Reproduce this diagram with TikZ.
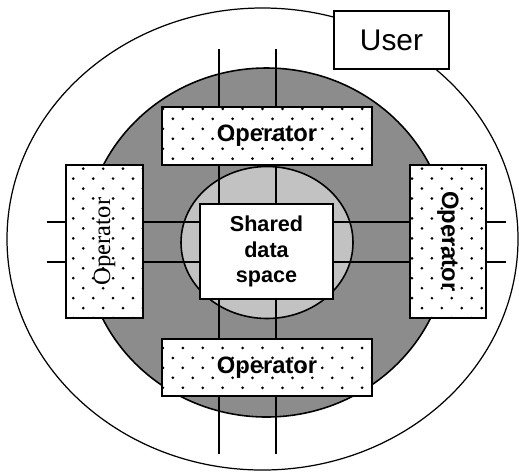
\documentclass[tikz,border=0pt]{standalone}
\usepackage{fontspec}
\setmainfont{Liberation Sans}
\newfontfamily\opserif{Liberation Serif}
\usetikzlibrary{patterns}

\pgfdeclarepatternformonly{opdots}{\pgfqpoint{-1pt}{-1pt}}{\pgfqpoint{12.34pt}{12.34pt}}{\pgfqpoint{11.34pt}{11.34pt}}{
  \pgfpathcircle{\pgfqpoint{2pt}{2pt}}{0.85pt}
  \pgfpathcircle{\pgfqpoint{7.67pt}{7.67pt}}{0.85pt}
  \pgfusepath{fill}
}

\tikzset{
  opbox/.style={draw, line width=1.1pt, fill=white, postaction={pattern=opdots},
    inner sep=0pt, font=\fontsize{13.5}{15}\selectfont\bfseries},
  plainbox/.style={draw, line width=1.1pt, fill=white, inner sep=0pt, align=center},
  link/.style={line width=1pt}
}

\definecolor{darkzone}{gray}{0.55}
\definecolor{lightzone}{gray}{0.76}

\begin{document}
\begin{tikzpicture}[x=0.02cm, y=-0.02cm]
 \useasboundingbox (0,0) rectangle (519,471);
 \draw[line width=0.7pt, fill=white] (262.5,239) ellipse [x radius=255.5, y radius=231];
 \draw[line width=0.9pt, fill=darkzone] (266.5,242.5) ellipse [x radius=182, y radius=174.5];
 \draw[line width=0.9pt, fill=lightzone] (267,242.5) ellipse [x radius=86, y radius=76];

 \coordinate (v1top) at (219,49);
 \coordinate (v1bot) at (219,454);
 \coordinate (v2top) at (276,49);
 \coordinate (v2bot) at (276,454);
 \coordinate (h1left) at (47,222);
 \coordinate (h1right) at (506,222);
 \coordinate (h2left) at (47,262);
 \coordinate (h2right) at (506,262);
 \draw[link] (v1top) -- (v1bot);
 \draw[link] (v2top) -- (v2bot);
 \draw[link] (h1left) -- (h1right);
 \draw[link] (h2left) -- (h2right);

 \node[opbox, minimum width=4.2cm, minimum height=1.16cm] (optop) at (267,136) {Operator};
 \node[opbox, minimum width=4.2cm, minimum height=1.14cm] (opbottom) at (267,367.5) {Operator};
 \node[opbox, minimum width=3.06cm, minimum height=1.54cm, rotate=90,
   font=\fontsize{14}{16}\selectfont\opserif] (opleft) at (104.5,241.5) {Operator};
 \node[opbox, minimum width=3.06cm, minimum height=1.52cm, rotate=-90] (opright) at (448,241.5) {Operator};
 \node[plainbox, minimum width=2.66cm, minimum height=1.9cm,
   font=\fontsize{12.3}{14.4}\selectfont\bfseries] (shared) at (266.5,251.5) {Shared\\data\\space};
 \node[plainbox, minimum width=2.3cm, minimum height=1.16cm,
   font=\fontsize{17}{19}\selectfont] (user) at (391.5,40) {User};
\end{tikzpicture}
\end{document}
